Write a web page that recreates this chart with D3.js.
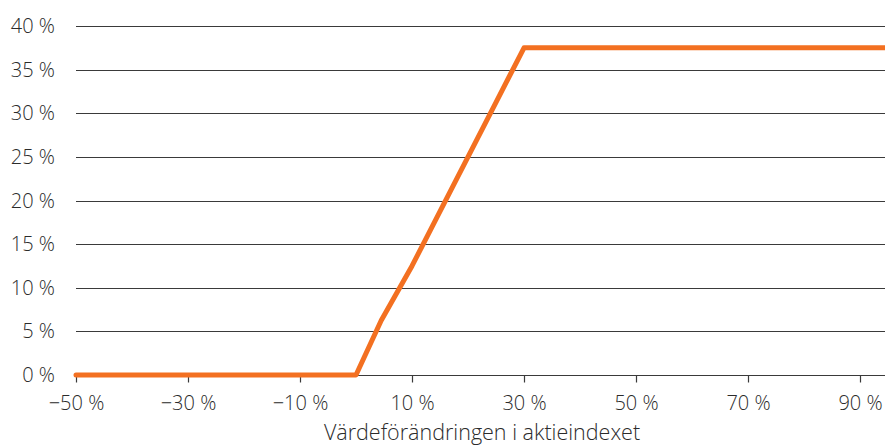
<!DOCTYPE html>
<html><head><meta charset="utf-8">
<script src="https://cdn.jsdelivr.net/npm/d3@7"></script>
<style>
html,body{margin:0;padding:0;background:#fff;}
svg text{font-family:"Open Sans", sans-serif;font-weight:300;fill:#2b2b2b;}
</style></head>
<body><svg id="chart" width="885" height="447"></svg>
<script>
const indexChange = [-50, -40, -30, -20, -10, 0, 4.5, 10, 15, 20, 25, 30, 40, 50, 60, 70, 80, 90, 95];
const returnValues = [0, 0, 0, 0, 0, 0, 6.25, 12.5, 18.75, 25, 31.25, 37.5, 37.5, 37.5, 37.5, 37.5, 37.5, 37.5, 37.5];
const xTicks = [-50, -30, -10, 10, 30, 50, 70, 90];
const yTicks = [0, 5, 10, 15, 20, 25, 30, 35, 40];
const xTitle = "Värdeförändringen i aktieindexet";

const svg = d3.select("#chart");
const x = d3.scaleLinear().domain([-50, 95]).range([76, 888]);
const y = d3.scaleLinear().domain([0, 40]).range([375, 26]);
const fmt = d => (d < 0 ? "\u2212" + Math.abs(d) : d) + " %";
const fs = 20;

// gridlines
svg.append("g").selectAll("line").data(yTicks.filter(d => d > 0)).join("line")
  .attr("x1", 76).attr("x2", 885)
  .attr("y1", d => Math.round(y(d)) + 0.5).attr("y2", d => Math.round(y(d)) + 0.5)
  .attr("stroke", "#3a3a3a").attr("stroke-width", 1.2);

// y labels
svg.append("g").selectAll("text").data(yTicks).join("text")
  .attr("x", 55).attr("y", d => y(d)).attr("dy", "0.35em")
  .attr("text-anchor", "end").attr("font-size", fs).text(fmt);

// x axis
const xAxis = d3.axisBottom(x).tickValues(xTicks).tickFormat(fmt).tickSize(7).tickPadding(4);
const gx = svg.append("g").attr("transform", `translate(0,${Math.round(y(0)) + 0.5})`).call(xAxis);
gx.select(".domain").attr("d", `M76,0H885`).attr("stroke", "#3a3a3a").attr("stroke-width", 1.2);
gx.selectAll(".tick line").attr("stroke", "#3a3a3a").attr("stroke-width", 1.2);
gx.selectAll(".tick text").attr("font-size", fs).attr("fill", "#2b2b2b").attr("dy", null).attr("y", 34)
  .style("font-family", "'Open Sans', sans-serif").style("font-weight", 300);

svg.append("text").attr("x", 482).attr("y", 440).attr("text-anchor", "middle")
  .attr("font-size", 21.5).text(xTitle);

// line
const data = indexChange.map((d, i) => ({x: d, y: returnValues[i]}));
svg.append("path").datum(data)
  .attr("fill", "none").attr("stroke", "#f37021").attr("stroke-width", 5)
  .attr("stroke-linejoin", "round").attr("stroke-linecap", "round")
  .attr("d", d3.line().x(d => x(d.x)).y(d => y(d.y)));
</script></body></html>
